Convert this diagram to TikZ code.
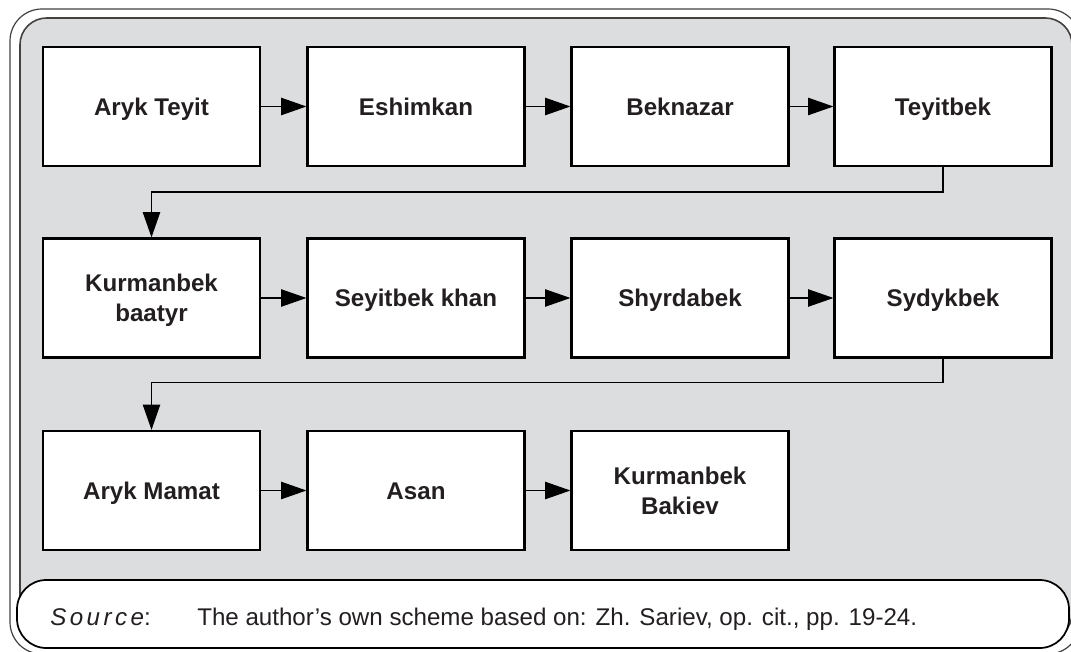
\documentclass[tikz,border=0pt]{standalone}
\usepackage{fontspec}
\setmainfont{Liberation Sans}
\usetikzlibrary{arrows.meta}
\definecolor{panel}{RGB}{220,221,223}
\definecolor{ink}{RGB}{35,31,32}
\begin{document}
\begin{tikzpicture}[x=0.75pt,y=-0.75pt,
  person/.style={draw=black,line width=1.6pt,fill=white,minimum width=162.75pt,minimum height=89.25pt,inner sep=0pt,align=center,font=\bfseries\fontsize{18.1}{22.5}\selectfont,text=ink},
  oneline/.style={person,text height=13pt,text depth=0pt},
  link/.style={draw=black,line width=1pt,-{Triangle[length=19pt,width=13pt]}},
  srcbox/.style={draw=black,line width=1.3pt,fill=white,rounded corners=22pt,minimum width=789pt,minimum height=51pt,inner sep=0pt},
  srctext/.style={anchor=base west,inner sep=0pt,font=\fontsize{18.1}{21}\selectfont,text=ink}]
\useasboundingbox (0,0) rectangle (1071,652);
\begin{scope}
\clip (0,0) rectangle (1071,652);
\fill[white] (0,0) rectangle (1071,652);
\draw[draw=ink!85,line width=0.9pt,rounded corners=24pt] (10,9) rectangle (1080,654);
\draw[draw=ink!85,fill=panel,line width=1.2pt,rounded corners=20pt] (20,18) rectangle (1072,640);

\node[oneline] (n1) at (151.5,106.5) {Aryk Teyit};
\node[oneline] (n2) at (416,106.5) {Eshimkan};
\node[oneline] (n3) at (680,106.5) {Beknazar};
\node[oneline] (n4) at (943,106.5) {Teyitbek};

\node[person] (n5) at (151.5,298) {\rule{0pt}{17pt}Kurmanbek\\baatyr};
\node[oneline] (n6) at (416,298) {Seyitbek khan};
\node[oneline] (n7) at (680,298) {Shyrdabek};
\node[oneline] (n8) at (943,298) {Sydykbek};

\node[oneline] (n9) at (151.5,490.5) {Aryk Mamat};
\node[oneline] (n10) at (416,490.5) {Asan};
\node[person] (n11) at (680,490.5) {Kurmanbek\\Bakiev};

\draw[link] (n1.east) -- (n2.west);
\draw[link] (n2.east) -- (n3.west);
\draw[link] (n3.east) -- (n4.west);
\draw[link] (n4.south) -- ++(0,25) -| (n5.north);
\draw[link] (n5.east) -- (n6.west);
\draw[link] (n6.east) -- (n7.west);
\draw[link] (n7.east) -- (n8.west);
\draw[link] (n8.south) -- ++(0,24) -| (n9.north);
\draw[link] (n9.east) -- (n10.west);
\draw[link] (n10.east) -- (n11.west);

\node[srcbox] (src) at (543,614) {};
\node[srctext] (srclabel) at (50,625) {{\itshape S\kern2.6pt o\kern2.6pt u\kern2.6pt r\kern2.6pt c\kern2.6pt e}:};
\node[srctext] (srcbody) at (197,625) {The author’s own scheme based on: Zh. Sariev, op. cit., pp. 19-24.};
\end{scope}
\end{tikzpicture}
\end{document}
